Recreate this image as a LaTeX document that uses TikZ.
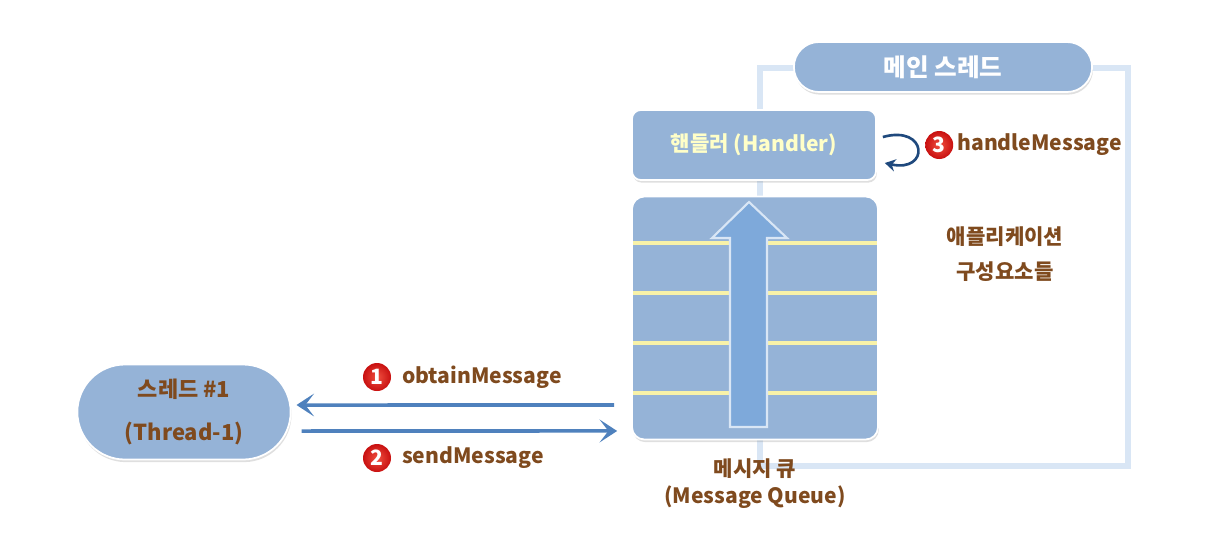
\documentclass[tikz,border=0pt]{standalone}
\usepackage{fontspec}
\setmainfont{Noto Sans CJK KR}
\usepackage{tikz}
\usetikzlibrary{shapes.misc, arrows.meta, positioning, shadows}
\definecolor{boxblue}{HTML}{95B3D7}
\definecolor{framecol}{HTML}{D9E6F5}
\definecolor{arrowblue}{HTML}{4F81BD}
\definecolor{loopblue}{HTML}{1F497D}
\definecolor{textbrown}{HTML}{7F4A1E}
\definecolor{handlertext}{HTML}{FFFFC8}
\definecolor{queueyellow}{HTML}{F8F2A8}
\definecolor{uparrow}{HTML}{7EA9DA}
\definecolor{numred}{HTML}{C81010}
\definecolor{numlight}{HTML}{F05040}
\tikzstyle{thread} = [rounded rectangle, minimum width=4.5cm, minimum height=1.9cm, fill=boxblue, draw=white, line width=1pt, drop shadow={opacity=0.25, shadow xshift=0.5pt, shadow yshift=-1.5pt}, text=textbrown, font=\fontsize{12.5}{24}\selectfont\bfseries, align=center]
\tikzstyle{mainthread} = [rounded rectangle, minimum width=6.2cm, minimum height=1cm, fill=boxblue, draw=white, line width=1pt, drop shadow={opacity=0.25, shadow xshift=0.5pt, shadow yshift=-1.5pt}, text=white, font=\fontsize{14}{16}\selectfont\bfseries]
\tikzstyle{handlerbox} = [rectangle, rounded corners=5pt, minimum width=4.88cm, minimum height=1.4cm, fill=boxblue, draw=white, line width=1pt, drop shadow={opacity=0.25, shadow xshift=0.5pt, shadow yshift=-1.5pt}, text=handlertext, font=\fontsize{12}{14}\selectfont\bfseries]
\tikzstyle{queuebox} = [rectangle, rounded corners=7pt, minimum width=4.92cm, minimum height=4.86cm, fill=boxblue, draw=white, line width=1pt, drop shadow={opacity=0.25, shadow xshift=0.5pt, shadow yshift=-1.5pt}]
\tikzstyle{frameline} = [framecol, line width=3pt]
\tikzstyle{queueline} = [queueyellow, line width=2pt]
\tikzstyle{msgarrow} = [arrowblue, line width=2pt, -{Stealth[length=10pt,width=13pt,inset=5pt]}]
\tikzstyle{looparrow} = [loopblue, line width=1.5pt, -{Stealth[length=6pt,width=7pt]}]
\tikzstyle{numdot} = [circle, minimum size=0.56cm, inner sep=0pt, shading=radial, inner color=numlight, outer color=numred, text=white, font=\fontsize{12}{14}\selectfont\bfseries]
\tikzstyle{msglabel} = [text=textbrown, font=\fontsize{12}{14}\selectfont\bfseries, inner sep=2pt]
\tikzstyle{caption} = [text=textbrown, font=\fontsize{12}{20}\selectfont\bfseries, align=center]

\begin{document}
\begin{tikzpicture}[x=0.02cm, y=-0.02cm]
\useasboundingbox (0,0) rectangle (1210,552);

% main thread frame
\coordinate (frametl) at (760,68);
\coordinate (framebr) at (1128,466);
\draw [frameline] (frametl) rectangle (framebr);

\node (mainthread) [mainthread] at (943,67) {메인 스레드};
\node (handler) [handlerbox] at (754,145) {핸들러 (Handler)};
\node (queue) [queuebox] at (755,318) {};
\node (thread1) [thread] at (184,412) {스레드 \#1\\(Thread-1)};

% queue slots and arrow
\foreach \y in {243,293,343,393}
  \draw [queueline] (633,\y) -- (877,\y);
\draw [fill=uparrow, draw=framecol, line width=1.2pt]
  (730,427) -- (730,238) -- (712,238) -- (749,202) -- (787,238) -- (767,238) -- (767,427) -- cycle;

\node (queuelabel) [caption, below=0.24cm of queue, font=\fontsize{12}{15.5}\selectfont\bfseries] {메시지 큐\\(Message Queue)};
\node (appparts) [caption] at (1005,254) {애플리케이션\\구성요소들};

% messages
\draw [msgarrow] ([xshift=-0.34cm,yshift=-1.74cm]queue.west) -- ([xshift=0.1cm,yshift=0.14cm]thread1.east);
\draw [msgarrow] ([xshift=0.2cm,yshift=-0.38cm]thread1.east) -- ([xshift=-0.28cm,yshift=-2.26cm]queue.west);

\node (n1) [numdot] at (377,377) {1};
\node (obtain) [msglabel, right=0.14cm of n1] {obtainMessage};
\node (n2) [numdot] at (377,458) {2};
\node (send) [msglabel, right=0.14cm of n2] {sendMessage};

\draw [looparrow] ([xshift=0.12cm,yshift=0.16cm]handler.east) .. controls +(0.9cm,0.25cm) and +(0.9cm,-0.2cm) .. ([xshift=0.16cm,yshift=-0.36cm]handler.east);
\node (n3) [numdot, right=0.96cm of handler] {3};
\node (handle) [msglabel, right=0pt of n3] {handleMessage};

\end{tikzpicture}
\end{document}
